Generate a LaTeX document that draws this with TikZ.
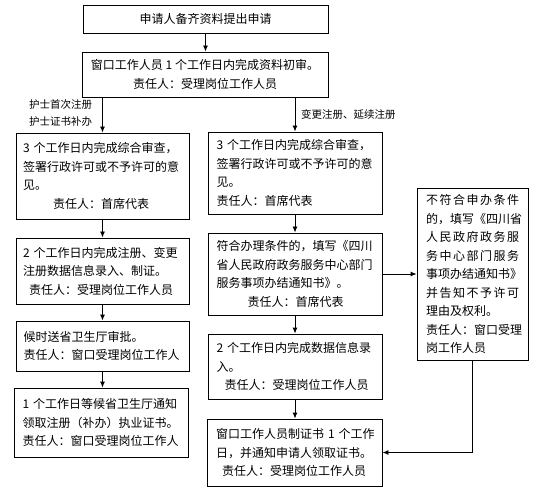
\documentclass[tikz,border=0pt]{standalone}
\usepackage{fontspec}
\setmainfont{Noto Sans CJK SC}
\usetikzlibrary{arrows.meta}
\newcommand{\spr}[1]{\makebox[93pt][s]{#1}}
\begin{document}
\begin{tikzpicture}[x=1pt,y=-1pt,
  box/.style={draw, line width=0.9pt, inner xsep=0pt, inner ysep=0pt, align=left,
              font=\fontsize{12}{18.5}\selectfont},
  arr/.style={-{Latex[length=6pt,width=5pt]}, line width=0.9pt},
  lab/.style={font=\fontsize{10.5}{17}\selectfont, inner sep=0pt, anchor=west}]
\useasboundingbox (0,0) rectangle (556,502);

\node[box, align=center, minimum width=245pt, minimum height=28pt] (b1) at (205.5,19)
  {申请人备齐资料提出申请};
\node[box, align=center, minimum width=246pt, minimum height=45pt] (b2) at (205,74.5)
  {窗口工作人员~1~个工作日内完成资料初审。\\责任人：受理岗位工作人员};

\node[box, minimum width=173pt, minimum height=86pt, text width=159pt] (a1) at (102.5,176)
  {3~个工作日内完成综合审查，\\签署行政许可或不予许可的意\\见。\\\hspace*{30pt}责任人：首席代表};
\node[box, minimum width=173pt, minimum height=66pt, text width=159pt] (a2) at (102.5,271)
  {2~个工作日内完成注册、变更\\注册数据信息录入、制证。\\\hspace*{6pt}责任人：受理岗位工作人员};
\node[box, minimum width=173pt, minimum height=50pt, text width=158pt] (a3) at (102.5,346)
  {候时送省卫生厅审批。\\责任人：窗口受理岗位工作人};
\node[box, minimum width=174pt, minimum height=69pt, text width=157pt] (a4) at (101,422.5)
  {1~个工作日等候省卫生厅通知\\领取注册（补办）执业证书。\\责任人：窗口受理岗位工作人};

\node[box, minimum width=174pt, minimum height=82pt, text width=157pt] (m1) at (295,173)
  {3~个工作日内完成综合审查，\\签署行政许可或不予许可的意\\见。\\责任人：首席代表};
\node[box, minimum width=174pt, minimum height=82pt, text width=157pt] (m2) at (295,274)
  {符合办理条件的，填写《四川\\省人民政府政务服务中心部门\\服务事项办结通知书》。\\\hspace*{31pt}责任人：首席代表};
\node[box, minimum width=174pt, minimum height=65pt, text width=157pt] (m3) at (295,366.5)
  {2~个工作日内完成数据信息录\\入。\\\hspace*{8pt}责任人：受理岗位工作人员};
\node[box, minimum width=175pt, minimum height=67pt, text width=157pt] (m4) at (294.5,452.5)
  {窗口工作人员制证书~1~个工作\\日，并通知申请人领取证书。\\\hspace*{6pt}责任人：受理岗位工作人员};

\node[box, minimum width=111pt, minimum height=172pt, text width=93pt] (r) at (472.5,274)
  {\spr{不\hfill 符\hfill 合\hfill 申\hfill 办\hfill 条\hfill 件}\\
   的，填写《四川省\\
   \spr{人\hfill 民\hfill 政\hfill 府\hfill 政\hfill 务\hfill 服}\\
   \spr{务\hfill 中\hfill 心\hfill 部\hfill 门\hfill 服\hfill 务}\\
   事项办结通知书》\\
   \spr{并\hfill 告\hfill 知\hfill 不\hfill 予\hfill 许\hfill 可}\\
   理由及权利。\\
   责任人：窗口受理\\
   岗工作人员};

\node[lab] (l1) at (29,105) {护士首次注册};
\node[lab] (l2) at (29,122) {护士证书补办};
\node[lab] (l3) at (301,115) {变更注册、延续注册};

\draw[arr] (b1.south) -- (b1.south |- b2.north);
\draw[arr] (b2.south -| a1.north) -- (a1.north);
\draw[arr] (b2.south -| m1.north) -- (m1.north);
\draw[arr] (a1.south) -- (a2.north);
\draw[arr] (a2.south) -- (a3.north);
\draw[arr] (a3.south) -- (a3.south |- a4.north);
\draw[arr] (m1.south) -- (m2.north);
\draw[arr] (m2.south) -- (m3.north);
\draw[arr] (m3.south) -- (m3.south |- m4.north);
\draw[arr] (m2.east) -- (m2.east -| r.west);
\draw[arr] (r.south) |- (m4.east);
\end{tikzpicture}
\end{document}
